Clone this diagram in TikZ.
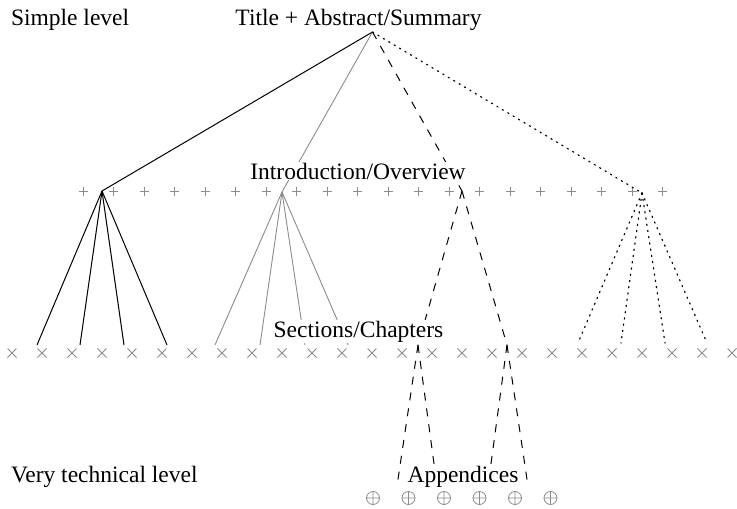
\documentclass[tikz,border=0pt]{standalone}
\usepackage{fontspec}
\setmainfont{Liberation Serif}
\begin{document}
\begin{tikzpicture}[x=1pt,y=-1pt,
  lbl/.style={font=\fontsize{23.5}{28}\selectfont, inner sep=0.8pt},
  wlbl/.style={lbl, fill=white},
  solidline/.style={line width=1pt, black},
  grayline/.style={line width=0.9pt, color=black!45},
  dashline/.style={line width=1pt, dash pattern=on 8pt off 8pt},
  dotline/.style={line width=1.2pt, dash pattern=on 1.3pt off 5pt, line cap=round},
  markstyle/.style={black!45, line width=0.8pt}]
\useasboundingbox (0,0) rectangle (737,509);

% markers
\foreach \k in {0,...,19}{
  \pgfmathsetmacro{\px}{83+30.5*\k}
  \draw[markstyle] (\px-4.5,191) -- (\px+4.5,191) (\px,186.5) -- (\px,195.5);
}
\foreach \k in {0,...,24}{
  \pgfmathsetmacro{\cx}{12+30*\k}
  \draw[markstyle] (\cx-4.5,348.5) -- (\cx+4.5,357.5) (\cx-4.5,357.5) -- (\cx+4.5,348.5);
}
\foreach \k in {0,...,5}{
  \pgfmathsetmacro{\ox}{373+35.5*\k}
  \draw[markstyle] (\ox,498) circle[radius=6.5] (\ox-6.5,498) -- (\ox+6.5,498) (\ox,491.5) -- (\ox,504.5);
}

% junctions
\coordinate (T) at (372.5,32);
\coordinate (B) at (102,191);
\coordinate (G) at (282,192);
\coordinate (D) at (462,191);
\coordinate (P) at (642,193);
\coordinate (DL) at (418,345);
\coordinate (DR) at (507,345);
% leaf ends
\coordinate (b1) at (37,345); \coordinate (b2) at (80,345);
\coordinate (b3) at (124,345); \coordinate (b4) at (167,345);
\coordinate (g1) at (215,345); \coordinate (g2) at (260,345);
\coordinate (g3) at (305,345); \coordinate (g4) at (348,345);
\coordinate (p1) at (578,343); \coordinate (p2) at (621,343);
\coordinate (p3) at (665,343); \coordinate (p4) at (707,343);
\coordinate (a1) at (397,486); \coordinate (a2) at (437,486);
\coordinate (a3) at (488,486); \coordinate (a4) at (528,486);

\draw[solidline] (T) -- (B);
\foreach \e in {b1,b2,b3,b4} \draw[solidline] (B) -- (\e);
\draw[grayline] (T) -- (G);
\foreach \e in {g1,g2,g3,g4} \draw[grayline] (G) -- (\e);
\draw[dashline] (T) -- (D);
\draw[dashline] (D) -- (DL);
\draw[dashline] (D) -- (DR);
\draw[dashline] (DL) -- (a1);
\draw[dashline] (DL) -- (a2);
\draw[dashline] (DR) -- (a3);
\draw[dashline] (DR) -- (a4);
\draw[dotline] (T) -- (P);
\foreach \e in {p1,p2,p3,p4} \draw[dotline] (P) -- (\e);

% labels
\node[lbl, anchor=base west] (simple) at (10,25) {Simple level};
\node[lbl, anchor=base west] (tech) at (10,482) {Very technical level};
\node[wlbl, anchor=base] (title) at (358.5,25) {Title + Abstract/Summary};
\node[wlbl, anchor=base] (intro) at (358,179) {Introduction/Overview};
\node[wlbl, anchor=base] (sect) at (358.5,337) {Sections/Chapters};
\node[wlbl, anchor=base] (app) at (463,482) {Appendices};
\end{tikzpicture}
\end{document}
